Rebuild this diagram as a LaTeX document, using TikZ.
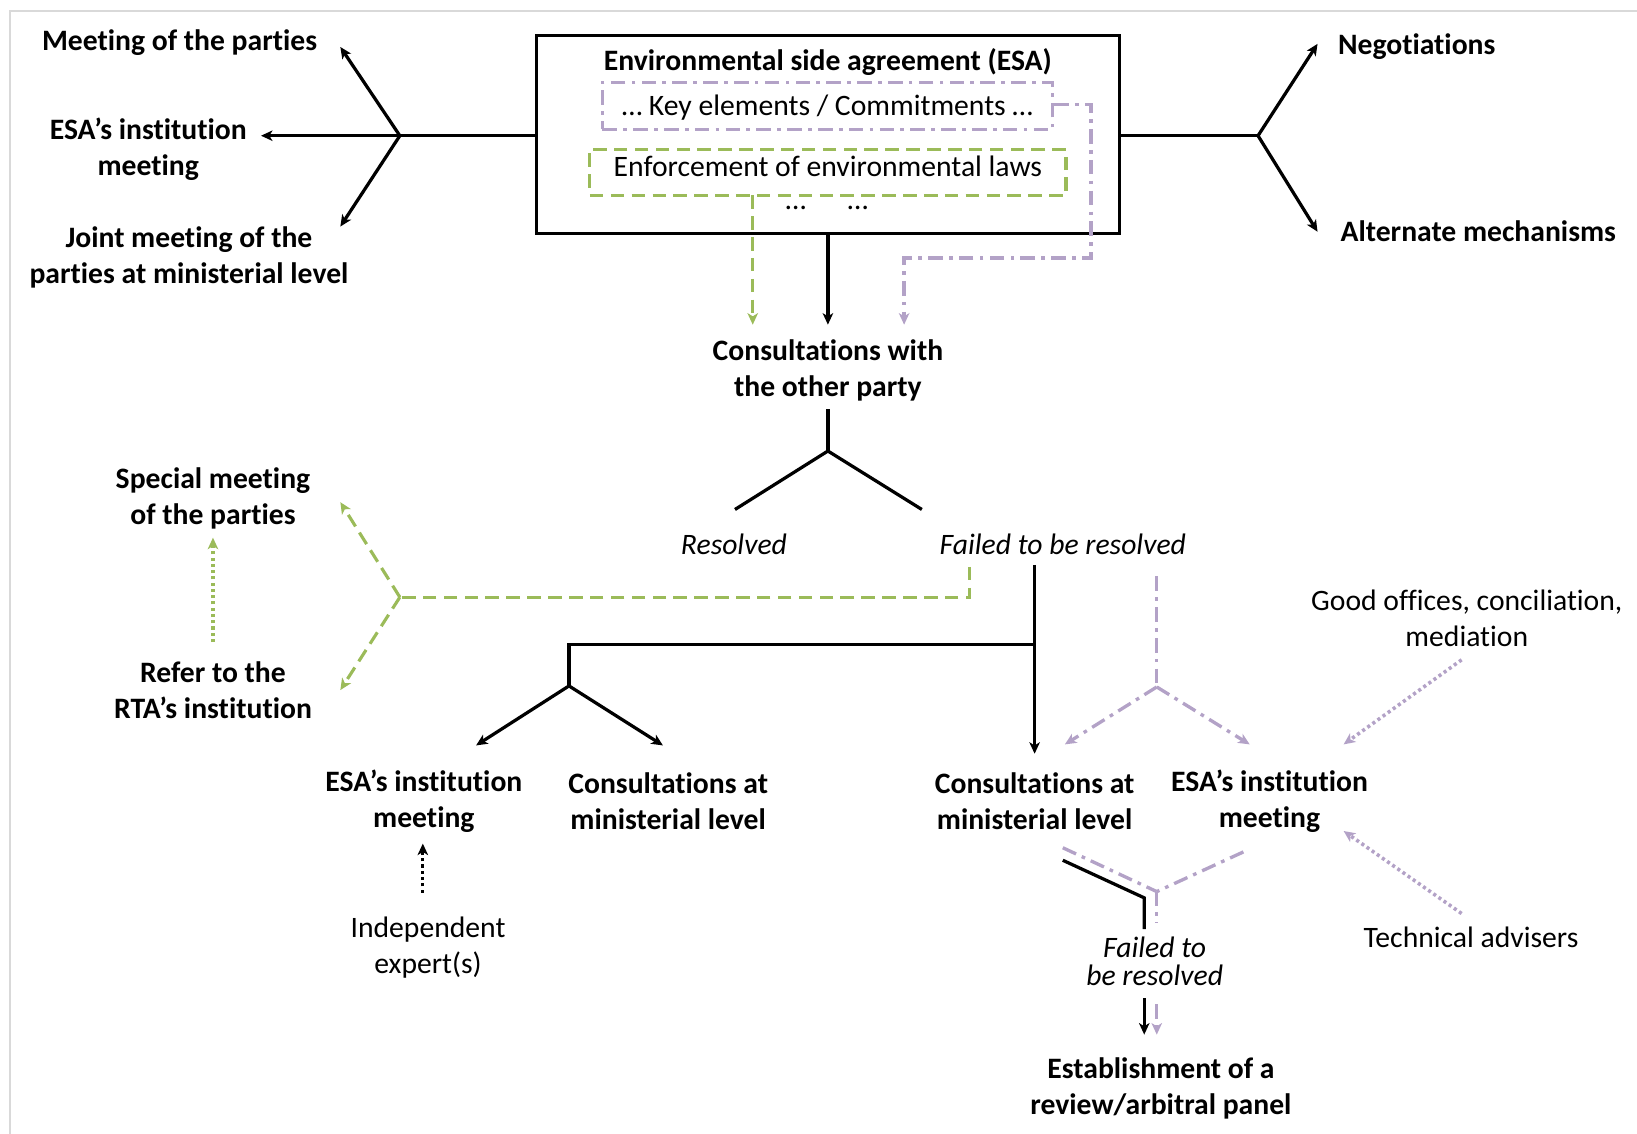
\documentclass[tikz,border=0pt]{standalone}
\usepackage{fontspec}
\setmainfont{Carlito}[Ligatures=NoCommon]
\usetikzlibrary{arrows.meta}
\definecolor{esagreen}{RGB}{155,187,89}
\definecolor{esapurple}{RGB}{179,162,199}
\definecolor{framegrey}{RGB}{217,217,217}
\tikzset{
  lbl/.style={align=center,font=\fontsize{28.4}{34.5}\selectfont\bfseries,inner sep=0pt,yshift=-2pt},
  lblr/.style={align=center,font=\fontsize{28.4}{34.5}\selectfont,inner sep=0pt},
  lbli/.style={align=center,font=\fontsize{28.4}{27}\selectfont\itshape,inner sep=0pt},
  tip/.style={-{Stealth[length=11pt,width=10pt,inset=3pt]}},
  blk/.style={line width=3.1pt,black},
  grn/.style={line width=3pt,esagreen,dash pattern=on 13pt off 7pt},
  grndot/.style={line width=3.2pt,esagreen,dash pattern=on 3pt off 3pt},
  pur/.style={line width=3.2pt,esapurple,dash pattern=on 14pt off 6pt on 3.5pt off 6pt},
  purdot/.style={line width=3.4pt,esapurple,dash pattern=on 3pt off 3pt},
  blkdot/.style={line width=3.2pt,black,dash pattern=on 3pt off 3pt},
}
\begin{document}
\begin{tikzpicture}[x=1pt,y=-1pt,line join=miter]
\useasboundingbox (0,0) rectangle (1568,1086);
% frame
\draw[framegrey,line width=2pt] (10,1090) -- (10,10.5) -- (1572,10.5);

% ESA box
\node[draw,line width=3.1pt,minimum width=558pt,minimum height=190pt,inner sep=0pt] (esa) at (793,129) {};
\node[lbl] (esatitle) at (793,57) {Environmental side agreement (ESA)};
\node[lblr,draw=esapurple,line width=3.2pt,dash pattern=on 14pt off 6pt on 3.5pt off 6pt,minimum width=431pt,minimum height=45pt,text height=25pt,text depth=6.3pt] (kbox) at (792.5,101.5) {… Key elements / Commitments …};
\node[lblr,draw=esagreen,line width=3pt,dash pattern=on 13pt off 7pt,minimum width=456pt,minimum height=44pt,text height=18pt,text depth=10pt] (ebox) at (793,165) {Enforcement of environmental laws};
\node[lblr] (dots) at (792,199) {…\hspace{40pt}…};

% left branch
\coordinate (cL) at (383,130);
\coordinate (aMP) at (326,45);
\coordinate (aEI) at (250,130);
\coordinate (aJM) at (326,217);
\node[lbl] (mp) at (172,39) {Meeting of the parties};
\node[lbl] (ei1) at (142,141) {ESA’s institution\\meeting};
\node[lbl] (jm) at (181,245) {Joint meeting of the\\parties at ministerial level};
\draw[blk] (esa.west |- cL) -- (cL);
\draw[blk,tip] (cL) -- (aMP);
\draw[blk,tip] (cL) -- (aEI);
\draw[blk,tip] (cL) -- (aJM);

% right branch
\coordinate (cR) at (1205,130);
\coordinate (aNeg) at (1262,42);
\coordinate (aAlt) at (1262,222);
\node[lbl] (neg) at (1357,43) {Negotiations};
\node[lbl] (alt) at (1416,219) {Alternate mechanisms};
\draw[blk] (esa.east |- cR) -- (cR);
\draw[blk,tip] (cR) -- (aNeg);
\draw[blk,tip] (cR) -- (aAlt);

% consultations with the other party
\node[lbl] (cons) at (793,353) {Consultations with\\the other party};
\coordinate (consTop) at (793,311);
\draw[blk,tip] (esa.south) -- (consTop);
\draw[grn,tip] (721,187) -- (721,311);
\draw[pur,tip] (kbox.east |- 0,100) -- (1045,100) -- (1045,247) -- (866,247) -- (866,311);

\coordinate (cC) at (793,432);
\draw[blk] (793,392) -- (cC);
\draw[blk] (cC) -- (704,488);
\draw[blk] (cC) -- (883,488);
\node[lbli] (res) at (703,521) {Resolved};
\node[lbli] (fail) at (1018,521) {Failed to be resolved};

% black path from failed
\coordinate (jT) at (991,617);
\coordinate (cB) at (545,657);
\draw[blk,tip] (991,541) -- (991,722);
\draw[blk] (jT) -- (545,617) -- (cB);
\draw[blk,tip] (cB) -- (456,714);
\draw[blk,tip] (cB) -- (635,714);

% green path
\coordinate (cG) at (383,572);
\draw[grn] (929,543) -- (929,572) -- (cG);
\draw[grn,tip] (cG) -- (326,481);
\draw[grn,tip] (cG) -- (326,661);
\node[lbl] (spec) at (204,475) {Special meeting\\of the parties};
\node[lbl] (refer) at (204,659) {Refer to the\\RTA’s institution};
\draw[grndot,tip] (204,615) -- (204,515);

% bottom left
\node[lbl] (ei2) at (406,765) {ESA’s institution\\meeting};
\node[lbl] (cm1) at (640,765) {Consultations at\\ministerial level};
\node[lblr] (indep) at (410,908) {Independent\\expert(s)};
\draw[blkdot,tip] (405,855) -- (405,808);

% bottom right
\node[lbl] (cm2) at (991,765) {Consultations at\\ministerial level};
\node[lbl] (ei3) at (1216,765) {ESA’s institution\\meeting};
\coordinate (cP) at (1108,658);
\draw[pur] (1108,552) -- (cP);
\draw[pur,tip] (cP) -- (1020,713);
\draw[pur,tip] (cP) -- (1197,713);
\node[lblr] (good) at (1405,592) {Good offices, conciliation,\\mediation};
\node[lblr] (tech) at (1409,898) {Technical advisers};
\draw[purdot,tip] (1400,632) -- (1287,713);
\draw[purdot,tip] (1400,875) -- (1287,796);

% merge to panel
\coordinate (mP) at (1108,854);
\coordinate (mB) at (1096,860);
\draw[pur] (1018,812) -- (mP);
\draw[pur] (1191,816) -- (mP);
\draw[pur] (mP) -- (1108,884);
\draw[blk] (1018,824) -- (mB) -- (1096,890);
\node[lbli] (fail2) at (1106,921) {Failed to\\be resolved};
\draw[blk,tip] (1096,956) -- (1096,991);
\draw[pur,tip] (1108,962) -- (1108,991);
\node[lbl] (panel) at (1112,1041) {Establishment of a\\review/arbitral panel};
\end{tikzpicture}
\end{document}
